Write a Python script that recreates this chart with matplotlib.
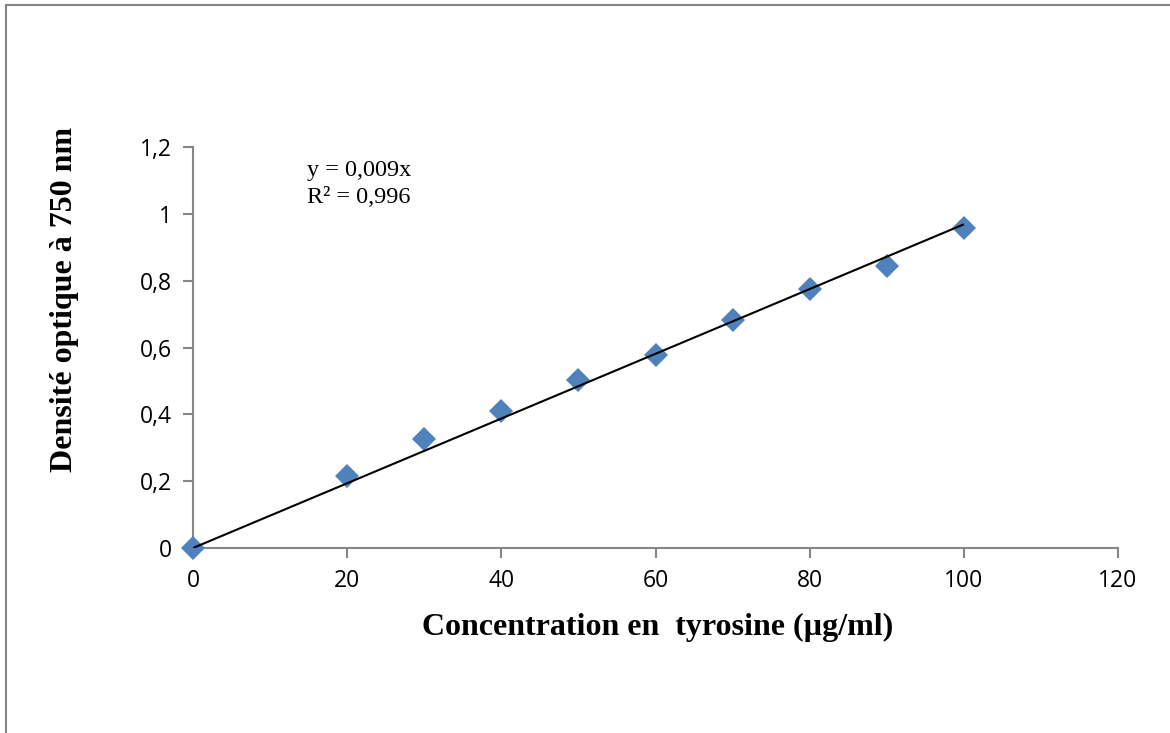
import numpy as np
import matplotlib
matplotlib.use("Agg")
import matplotlib.pyplot as plt
from matplotlib.lines import Line2D

conc = [0, 20, 30, 40, 50, 60, 70, 80, 90, 100]
od = [0.0, 0.215, 0.325, 0.41, 0.503, 0.578, 0.683, 0.775, 0.845, 0.958]
xticks = [0, 20, 40, 60, 80, 100, 120]
yticks = [0, 0.2, 0.4, 0.6, 0.8, 1.0, 1.2]
ytick_labels = ["0", "0,2", "0,4", "0,6", "0,8", "1", "1,2"]
xtick_labels = ["0", "20", "40", "60", "80", "100", "120"]

x = np.array(conc, float)
y = np.array(od, float)
slope = np.sum(x * y) / np.sum(x * x)

W, H = 1170, 733
fig = plt.figure(figsize=(W/100, H/100), dpi=100)
ax = fig.add_axes([193/W, 1-548/H, (1118-193)/W, (548-147)/H])

grey = "#868686"
fit_x = np.array([0, 100])
ax.plot(fit_x, slope * fit_x, color="black", lw=1.5, zorder=4, solid_capstyle="butt")
ax.plot(conc, od, linestyle="none", marker="D", ms=12, color="#4F81BD",
        markeredgewidth=0, zorder=3, clip_on=False)

ax.set_xlim(0, 120)
ax.set_ylim(0, 1.2)
ax.set_xticks(xticks)
ax.set_xticklabels(xtick_labels)
ax.set_yticks(yticks)
ax.set_yticklabels(ytick_labels)
for s in ["top", "right"]:
    ax.spines[s].set_visible(False)
for s in ["left", "bottom"]:
    ax.spines[s].set_color(grey)
    ax.spines[s].set_linewidth(1.5)
ax.tick_params(direction="out", length=7, width=1.5, color=grey, labelcolor="black",
               labelsize=16.5, pad=8)
for lab in ax.get_xticklabels() + ax.get_yticklabels():
    lab.set_family("Open Sans")

fig.text(658/W, 1-627/H, "Concentration en  tyrosine (µg/ml)", family="Liberation Serif",
         fontweight="bold", fontsize=23, ha="center", va="center")
fig.text(65/W, 1-300/H, "Densité optique à 750 nm", family="Liberation Serif",
         fontweight="bold", fontsize=23, ha="center", va="center", rotation=90)

fig.text(307/W, 1-160/H, "y = 0,009x\nR² = 0,996",
         family="Liberation Serif", fontsize=17.5, va="top", ha="left", linespacing=1.4)

# outer frame (left and top edges)
fig.add_artist(Line2D([6/W, 6/W], [0, 1-5/H], transform=fig.transFigure,
                      color=grey, lw=1.5))
fig.add_artist(Line2D([6/W, 1], [1-5/H, 1-5/H], transform=fig.transFigure,
                      color=grey, lw=1.5))

fig.savefig("out.png", dpi=100)
